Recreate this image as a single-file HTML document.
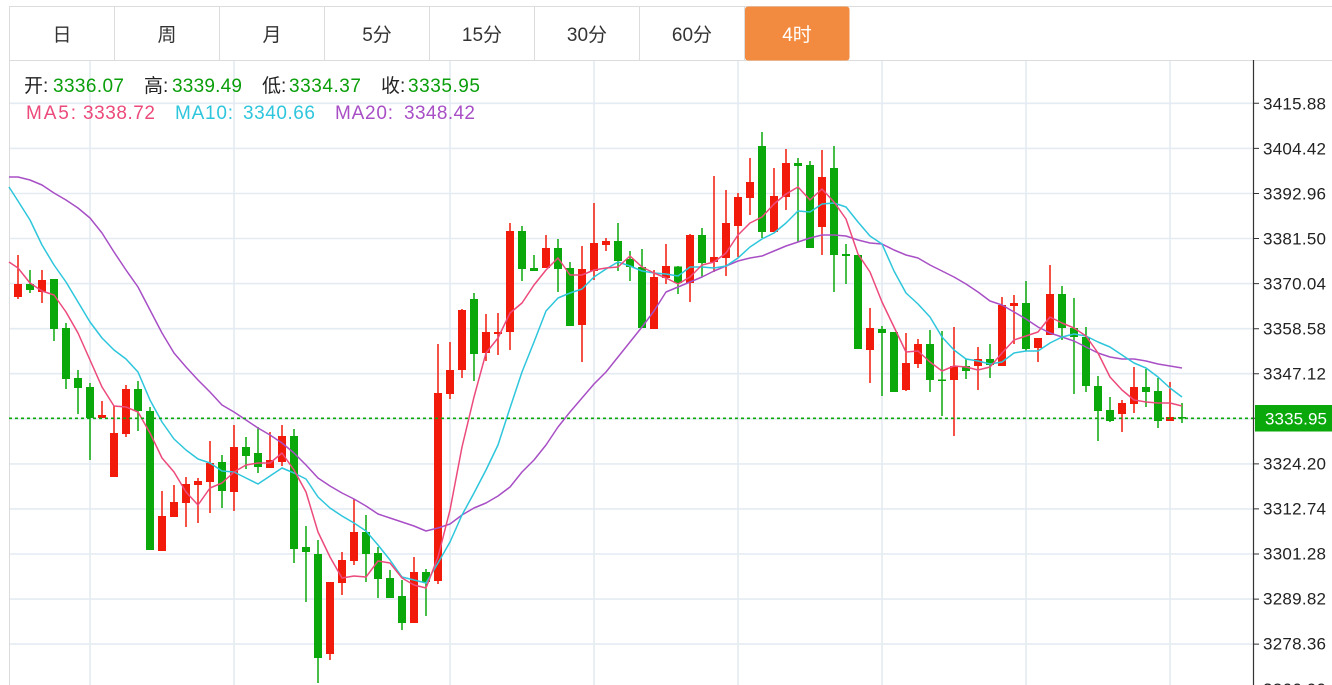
<!DOCTYPE html>
<html><head><meta charset="utf-8"><style>
html,body{margin:0;padding:0;background:#fff;}
svg{display:block;}
.t{font-family:"Liberation Sans","Noto Sans CJK SC",sans-serif;}
</style></head><body>
<svg width="1332" height="685" viewBox="0 0 1332 685" xmlns="http://www.w3.org/2000/svg">
<rect width="1332" height="685" fill="#fff"/>
<g stroke="#e4ebf2" stroke-width="1.6" fill="none">
<path d="M9 103.3H1253M9 148.4H1253M9 193.5H1253M9 238.5H1253M9 283.6H1253M9 328.7H1253M9 373.7H1253M9 418.8H1253M9 463.9H1253M9 508.9H1253M9 554H1253M9 599.1H1253M9 644.1H1253"/>
<path d="M90 60V685M234 60V685M450 60V685M594 60V685M738 60V685M882 60V685M1026 60V685M1170 60V685"/>
</g>
<path d="M9.5 6V685" stroke="#dcdcdc" stroke-width="1"/>
<g stroke="#dcdcdc" stroke-width="1" fill="none">
<path d="M9 6.5H1332M9 60.5H1332M114.5 6V60M219.5 6V60M324.5 6V60M429.5 6V60M534.5 6V60M639.5 6V60M744.5 6V60"/>
</g>
<rect x="745" y="6.5" width="104.5" height="54" rx="3" fill="#f28b3f"/>
<g class="t" font-size="19" fill="#333" text-anchor="middle">
<text x="62" y="41">日</text>
<text x="167" y="41">周</text>
<text x="272" y="41">月</text>
<text x="377" y="41">5分</text>
<text x="482" y="41">15分</text>
<text x="587" y="41">30分</text>
<text x="692" y="41">60分</text>
<text x="797" y="41" fill="#fff">4时</text>
</g>
<g class="t" font-size="19" lengthAdjust="spacingAndGlyphs">
<text x="24" y="92" fill="#222">开:</text>
<text x="53" y="92" fill="#0a9e0a" textLength="71">3336.07</text>
<text x="144" y="92" fill="#222">高:</text>
<text x="172" y="92" fill="#0a9e0a" textLength="70">3339.49</text>
<text x="262" y="92" fill="#222">低:</text>
<text x="289" y="92" fill="#0a9e0a" textLength="72">3334.37</text>
<text x="381" y="92" fill="#222">收:</text>
<text x="408" y="92" fill="#0a9e0a" textLength="72">3335.95</text>
<text x="26" y="119" fill="#ec4a7b" textLength="50">MA5:</text>
<text x="83" y="119" fill="#ec4a7b" textLength="72">3338.72</text>
<text x="175" y="119" fill="#2ec6dc" textLength="58">MA10:</text>
<text x="243" y="119" fill="#2ec6dc" textLength="72">3340.66</text>
<text x="335" y="119" fill="#a84fc6" textLength="58">MA20:</text>
<text x="404" y="119" fill="#a84fc6" textLength="71">3348.42</text>
</g>
<path stroke="#f21a0a" stroke-width="1.5" fill="none" d="M18 255V299M42 270V303M102 401V418M114 406V477M126 385V437M162 491V551M174 485V517M186 477V527M198 478V523M210 441V513M234 425V511M270 432V468M282 425V466M330 582V660M342 552V595M354 499V565M414 557V623M438 344V584M450 342V399M462 309V378M486 314V361M498 313V355M510 223V350M546 235V268M582 246V362M594 203V280M606 238V251M654 270V329M666 244V284M690 234V302M714 176V272M726 190V276M738 193V257M750 158V215M774 168V232M786 149V210M822 150V255M870 308V383M906 333V391M918 339V368M954 327V436M978 347V390M1002 297V366M1014 295V344M1038 338V362M1050 265V335M1122 400V432M1134 367V413M1170 382V421"/>
<path fill="#f21a0a" d="M14 284h8v13h-8zM38 280h8v12h-8zM98 415h8v3h-8zM110 433h8v44h-8zM122 389h8v45h-8zM158 516h8v35h-8zM170 502h8v15h-8zM182 484h8v19h-8zM194 481h8v4h-8zM206 463h8v19h-8zM230 447h8v45h-8zM266 460h8v8h-8zM278 436h8v26h-8zM326 582h8v72h-8zM338 560h8v23h-8zM350 532h8v29h-8zM410 572h8v51h-8zM434 393h8v188h-8zM446 370h8v24h-8zM458 310h8v60h-8zM482 332h8v21h-8zM494 332h8v2h-8zM506 231h8v101h-8zM542 248h8v20h-8zM578 269h8v56h-8zM590 243h8v28h-8zM602 241h8v4h-8zM650 277h8v52h-8zM662 266h8v12h-8zM686 235h8v48h-8zM710 257h8v5h-8zM722 223h8v35h-8zM734 197h8v29h-8zM746 182h8v16h-8zM770 196h8v36h-8zM782 163h8v34h-8zM818 177h8v50h-8zM866 328h8v22h-8zM902 363h8v27h-8zM914 344h8v20h-8zM950 366h8v14h-8zM974 359h8v7h-8zM998 305h8v61h-8zM1010 303h8v3h-8zM1034 338h8v10h-8zM1046 294h8v41h-8zM1118 403h8v11h-8zM1130 387h8v17h-8zM1166 417h8v4h-8z"/>
<path stroke="#0aa80a" stroke-width="1.5" fill="none" d="M30 270V293M54 279V341M66 323V389M78 370V414M90 383V460M138 381V431M150 407V550M222 455V508M246 437V469M258 427V473M294 429V563M306 526V602M318 540V683M366 515V582M378 547V598M390 570V598M402 580V630M426 569V616M474 293V381M522 226V281M534 255V271M558 239V292M570 262V326M618 223V271M630 251V281M642 249V328M678 266V294M702 228V277M762 132V238M798 158V242M810 161V248M834 146V292M846 244V284M858 255V349M882 326V396M894 332V392M930 330V392M942 331V416M966 359V379M990 344V378M1026 281V351M1062 286V340M1074 298V394M1086 327V392M1098 376V441M1110 397V422M1146 369V407M1158 378V428M1182 403V423"/>
<path fill="#0aa80a" d="M26 284h8v6h-8zM50 279h8v50h-8zM62 328h8v51h-8zM74 378h8v10h-8zM86 387h8v31h-8zM134 389h8v22h-8zM146 411h8v139h-8zM218 462h8v29h-8zM242 447h8v9h-8zM254 453h8v14h-8zM290 436h8v113h-8zM302 547h8v5h-8zM314 554h8v104h-8zM362 532h8v22h-8zM374 553h8v26h-8zM386 578h8v20h-8zM398 596h8v27h-8zM422 572h8v10h-8zM470 299h8v55h-8zM518 231h8v38h-8zM530 268h8v3h-8zM554 248h8v21h-8zM566 268h8v58h-8zM614 241h8v20h-8zM626 259h8v8h-8zM638 267h8v61h-8zM674 266.5h8v16.5h-8zM698 235h8v28h-8zM758 146h8v86h-8zM794 163h8v3h-8zM806 165h8v83h-8zM830 168h8v87h-8zM842 254h8v2h-8zM854 255h8v94h-8zM878 329h8v4h-8zM890 332h8v60h-8zM926 344h8v36h-8zM938 379.5h8v1.5h-8zM962 366h8v5h-8zM986 359h8v6h-8zM1022 303h8v46h-8zM1058 294h8v34h-8zM1070 328h8v9h-8zM1082 337h8v49h-8zM1094 386h8v25h-8zM1106 410h8v11h-8zM1142 387h8v5h-8zM1154 391h8v30h-8zM1178 417h8v1.5h-8z"/>
<g fill="none" stroke-width="1.5" stroke-linejoin="round">
<polyline stroke="#a84fc6" points="9,177 18,177 30,180 42,185 54,193 66,200 78,208 90,218 102,233 114,252 126,270 138,287 150,310 162,333 174,353 186,367 198,380 210,392 222,405 234,412 246,420 258,428 270,435 282,443 294,453 306,465 318,478 330,486 342,493 354,499 366,506 378,514 390,518 402,522 414,526 426,531 438,528 450,524 462,515 474,508 486,503 498,496 510,487 522,472 534,460 546,445 558,427 570,412 582,398 594,384 606,372 618,357 630,342 642,327 654,311 666,292 678,287 690,282 702,277 714,271 726,266 738,261 750,258 762,256 774,251 786,246 798,242 810,238 822,235 834,235 846,236 858,240 870,243 882,244 894,250 906,255 918,258 930,265 942,271 954,277 966,284 978,292 990,301 1002,305 1014,312 1026,319 1038,327 1050,333 1062,337 1074,341 1086,347 1098,353 1110,357 1122,359 1134,359 1146,361 1158,364 1170,366 1182,368"/>
<polyline stroke="#2ec6dc" points="9,187 18,201 30,220 42,245 54,265 66,282 78,302 90,322 102,338 114,350 126,359 138,372 150,400 162,422 174,439 186,450 198,459 210,463 222,471 234,472 246,478 258,484 270,476 282,468 294,473 306,479 318,497 330,508 342,516 354,523 366,531 378,545 390,560 402,577 414,580 426,583 438,563 450,542 462,515 474,493 486,470 498,445 510,408 522,372 534,342 546,311 558,298 570,293 582,289 594,277 606,269 618,262 630,266 642,271 654,273 666,274 678,276 690,267 702,267 714,268 726,266 738,258 750,247 762,239 774,233 786,223 798,211 810,212 822,204 834,203 846,207 858,222 870,236 882,244 894,271 906,293 918,304 930,317 942,337 954,350 966,359 978,361 990,364 1002,362 1014,353 1026,351 1038,351 1050,343 1062,337 1074,334 1086,336 1098,342 1110,347 1122,355 1134,363 1146,368 1158,377 1170,388 1182,397"/>
<polyline stroke="#ec4a7b" points="9,262 18,268 30,283 42,291 54,295 66,312 78,333 90,360 102,387 114,406 126,407 138,412 150,433 162,458 174,472 186,492 198,505 210,488 222,483 234,472 246,465 258,463 270,463 282,453 294,470 306,492 318,532 330,557 342,578 354,576 366,577 378,561 390,563 402,578 414,585 426,588 438,557 450,510 462,447 474,397 486,353 498,338 510,313 522,303 534,285 546,270 558,258 570,275 582,275 594,270 606,268 618,267 630,256 642,267 654,273 666,278 678,284 690,277 702,265 714,262 726,253 738,235 750,223 762,217 774,204 786,194 798,187 810,200 822,189 834,202 846,219 858,254 870,272 882,302 894,327 906,352 918,351 930,362 942,371 954,366 966,367 978,370 990,367 1002,353 1014,340 1026,336 1038,332 1050,317 1062,323 1074,328 1086,336 1098,353 1110,377 1122,390 1134,400 1146,402 1158,403 1170,403 1182,406"/>
</g>
<path d="M9 418.3H1253" stroke="#0aa80a" stroke-width="1.6" stroke-dasharray="3,3"/>
<path d="M1253.5 60V685" stroke="#333" stroke-width="1.2"/>
<path stroke="#333" stroke-width="1" d="M1253 103.3H1259M1253 148.4H1259M1253 193.5H1259M1253 238.5H1259M1253 283.6H1259M1253 328.7H1259M1253 373.7H1259M1253 418.3H1259M1253 463.9H1259M1253 508.9H1259M1253 554H1259M1253 599.1H1259M1253 644.1H1259"/>
<rect x="1255" y="405" width="77" height="26.5" fill="#0aa80a"/>
<g class="t" font-size="17" fill="#222" lengthAdjust="spacingAndGlyphs">
<text x="1263" y="109.5" textLength="63">3415.88</text>
<text x="1263" y="154.5" textLength="63">3404.42</text>
<text x="1263" y="199.5" textLength="63">3392.96</text>
<text x="1263" y="244.5" textLength="63">3381.50</text>
<text x="1263" y="289.5" textLength="63">3370.04</text>
<text x="1263" y="334.5" textLength="63">3358.58</text>
<text x="1263" y="379.5" textLength="63">3347.12</text>
<text x="1265" y="424.5" fill="#fff" textLength="62">3335.95</text>
<text x="1263" y="469.5" textLength="63">3324.20</text>
<text x="1263" y="514.5" textLength="63">3312.74</text>
<text x="1263" y="559.5" textLength="63">3301.28</text>
<text x="1263" y="604.5" textLength="63">3289.82</text>
<text x="1263" y="649.5" textLength="63">3278.36</text>
<text x="1263" y="695" textLength="63">3266.90</text>
</g>
</svg>
</body></html>
